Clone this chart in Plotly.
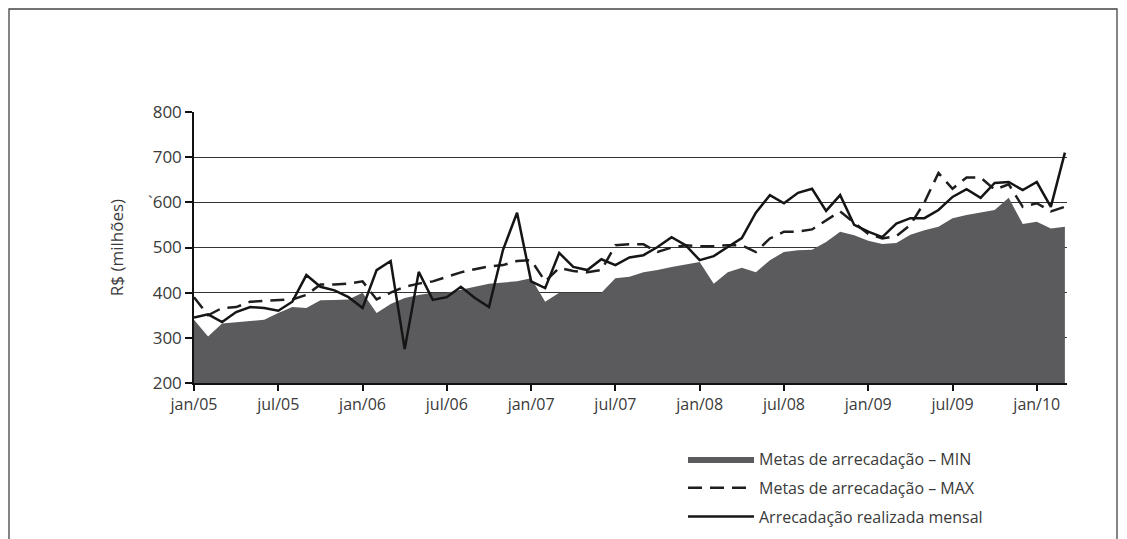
import plotly.graph_objects as go

# Month labels (jan/05 .. mar/10)
tick_labels = ["jan/05", "jul/05", "jan/06", "jul/06", "jan/07", "jul/07",
               "jan/08", "jul/08", "jan/09", "jul/09", "jan/10"]
tick_pos = [0, 6, 12, 18, 24, 30, 36, 42, 48, 54, 60]

y_tick_vals = [200, 300, 400, 500, 600, 700, 800]
y_tick_text = ["200", "300", "400", "500", "`600", "700", "800"]

metas_min = [340, 303, 332, 335, 337, 340, 355, 368, 366, 383,
             384, 385, 400, 355, 375, 388, 395, 400, 400, 406,
             413, 420, 423, 425, 432, 380, 400, 400, 400, 400,
             432, 435, 445, 450, 457, 462, 468, 420, 445, 455,
             445, 472, 490, 494, 495, 512, 535, 527, 515, 508,
             510, 528, 538, 546, 565, 572, 578, 583, 610, 552,
             557, 542, 546]

metas_max = [390, 350, 366, 368, 380, 382, 383, 385, 395, 418,
             418, 420, 425, 385, 400, 413, 420, 425, 435, 445,
             452, 458, 461, 470, 472, 425, 455, 448, 445, 450,
             505, 507, 507, 490, 500, 505, 503, 503, 505, 505,
             490, 520, 535, 535, 540, 560, 580, 555, 530, 520,
             525, 550, 600, 665, 630, 655, 655, 628, 640, 590,
             598, 580, 590]

realizada = [345, 352, 335, 357, 368, 366, 360, 380, 439, 413,
             405, 390, 366, 450, 470, 275, 446, 384, 390, 413,
             388, 368, 495, 577, 425, 410, 488, 457, 450, 474,
             461, 478, 483, 501, 523, 505, 472, 481, 501, 521,
             577, 616, 598, 621, 630, 581, 616, 550, 535, 523,
             553, 565, 565, 583, 612, 629, 610, 643, 645, 627,
             645, 590, 710]

month_idx = list(range(len(realizada)))

FONT = "Open Sans"
TXT = "#3a3a3a"

fig = go.Figure()
fig.add_trace(go.Scatter(
    x=month_idx, y=metas_min, mode="lines", fill="tozeroy",
    fillcolor="#5b5b5d", line=dict(width=0, color="#5b5b5d"),
    name="Metas de arrecadação – MIN", legendgroup="a"))
fig.add_trace(go.Scatter(
    x=month_idx, y=metas_max, mode="lines",
    line=dict(color="#1e1e1e", width=2.5, dash="14px,8px"),
    name="Metas de arrecadação – MAX", legendgroup="b"))
fig.add_trace(go.Scatter(
    x=month_idx, y=realizada, mode="lines",
    line=dict(color="#151515", width=2.5),
    name="Arrecadação realizada mensal", legendgroup="c"))

L, R, T, B = 194, 60, 112, 156
W, H = 1127, 539
pw, ph = W - L - R, H - T - B

def px_x(p):
    return (p - L) / pw

def px_y(p):
    return (H - B - p) / ph

fig.update_layout(
    width=W, height=H,
    margin=dict(l=L, r=R, t=T, b=B, autoexpand=False),
    paper_bgcolor="white", plot_bgcolor="white",
    font=dict(family=FONT, size=16, color=TXT),
    showlegend=True,
    legend=dict(
        x=px_x(683), y=px_y(442), xanchor="left", yanchor="top",
        bgcolor="rgba(0,0,0,0)", font=dict(size=16, color=TXT, family=FONT),
        traceorder="grouped", tracegroupgap=5, itemwidth=66,
    ),
    xaxis=dict(
        range=[0, 62.15], tickvals=tick_pos, ticktext=tick_labels,
        ticks="outside", ticklen=6, tickwidth=1.5, tickcolor="#111",
        showline=True, linecolor="#111", linewidth=1.5,
        showgrid=False, zeroline=False,
        tickfont=dict(size=16, color=TXT, family=FONT),
    ),
    yaxis=dict(
        range=[200, 800], tickvals=y_tick_vals, ticktext=y_tick_text,
        ticks="outside", ticklen=7, tickwidth=1.5, tickcolor="#111",
        showline=True, linecolor="#111", linewidth=1.5,
        showgrid=True, gridcolor="#333", gridwidth=1.2, zeroline=False,
        tickfont=dict(size=17, color=TXT, family=FONT),
        title=dict(text="R$ (milhões)", standoff=20,
                   font=dict(size=17, color=TXT, family=FONT)),
    ),
    shapes=[dict(type="rect", xref="paper", yref="paper",
                 x0=px_x(9), x1=px_x(1117), y0=px_y(560), y1=px_y(9),
                 line=dict(color="#444", width=1.3), fillcolor="rgba(0,0,0,0)",
                 layer="below")],
)

fig.write_html("out.html", config={"displayModeBar": False},
               post_script="document.body.style.margin='0';")
